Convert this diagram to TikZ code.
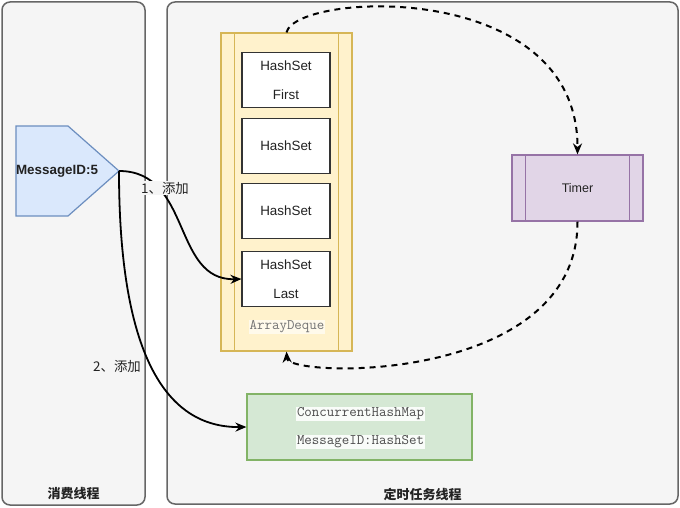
\documentclass[tikz,border=0pt]{standalone}
\usepackage{fontspec}
\setmainfont{Liberation Sans}
\newfontfamily\cjk{Noto Sans CJK SC}
\usetikzlibrary{arrows.meta,calc}
\definecolor{contfill}{HTML}{F5F5F5}
\definecolor{contdraw}{HTML}{666666}
\definecolor{bluefill}{HTML}{DAE8FC}
\definecolor{bluedraw}{HTML}{6C8EBF}
\definecolor{yelfill}{HTML}{FFF2CC}
\definecolor{yeldraw}{HTML}{D6B656}
\definecolor{purfill}{HTML}{E1D5E7}
\definecolor{purdraw}{HTML}{9673A6}
\definecolor{grnfill}{HTML}{D5E8D4}
\definecolor{grndraw}{HTML}{82B366}
\definecolor{txt}{HTML}{222222}
\tikzset{
  container/.style={draw=contdraw, fill=contfill, line width=1.5pt, rounded corners=8pt},
  contlabel/.style={font=\cjk\bfseries\fontsize{13}{15}\selectfont, text=txt},
  hsbox/.style={draw=black!80, fill=white, line width=1.1pt, minimum width=88pt, minimum height=55pt, inner sep=0pt, align=center, text=txt, font=\fontsize{13.4}{29}\selectfont},
  monotext/.style={font=\ttfamily\fontsize{14.5}{16}\selectfont, inner sep=1pt},
  solidarrow/.style={draw=black, line width=1.8pt, -{Stealth[length=11pt,width=9pt]}},
  dasharrow/.style={draw=black, line width=2pt, dash pattern=on 6pt off 5pt, -{Stealth[length=11pt,width=9pt]}},
  addlabel/.style={font=\cjk\fontsize{13.4}{15}\selectfont, text=txt, fill=contfill, inner sep=1pt},
}
\begin{document}
\begin{tikzpicture}[x=1pt,y=-1pt]
\useasboundingbox[fill=white] (0,0) rectangle (680,508);
% containers
\draw[container] (2,2) rectangle (145,505);
\node[contlabel] (lbl1) at (73.5,494) {消费线程};
\draw[container] (167,2) rectangle (678,504);
\node[contlabel] (lbl2) at (422.5,494) {定时任务线程};

% pentagon
\draw[fill=bluefill, draw=bluedraw, line width=1.2pt] (16,126) -- (68,126) -- (119,171) -- (68,216) -- (16,216) -- cycle;
\coordinate (tip) at (119,171);
\node[font=\bfseries\fontsize{13.4}{15}\selectfont, text=txt] (msg) at (57,171) {MessageID:5};

% ArrayDeque
\node[draw=yeldraw, fill=yelfill, line width=1.2pt, minimum width=131pt, minimum height=318pt, inner sep=0pt] (deque) at (286.5,192) {};
\draw[draw=yeldraw, line width=1.2pt] ($(deque.north west)+(14,0)$) -- ($(deque.south west)+(14,0)$);
\draw[draw=yeldraw, line width=1.2pt] ($(deque.north east)+(-14,0)$) -- ($(deque.south east)+(-14,0)$);
\node[monotext, text=black!55, fill=yelfill!40] (dqlabel) at (287,327) {ArrayDeque};

\node[hsbox] (hs1) at (286,80) {HashSet\\First};
\node[hsbox] (hs2) at (286,146) {HashSet};
\node[hsbox] (hs3) at (286,211) {HashSet};
\node[hsbox] (hs4) at (286,279) {HashSet\\Last};

% Timer
\node[draw=purdraw, fill=purfill, line width=1.2pt, minimum width=131pt, minimum height=66pt, inner sep=0pt, font=\fontsize{12.5}{14}\selectfont, text=txt] (timer) at (577.5,188) {Timer};
\draw[draw=purdraw, line width=1.2pt] ($(timer.north west)+(14,0)$) -- ($(timer.south west)+(14,0)$);
\draw[draw=purdraw, line width=1.2pt] ($(timer.north east)+(-14,0)$) -- ($(timer.south east)+(-14,0)$);

% ConcurrentHashMap
\node[draw=grndraw, fill=grnfill, line width=1.2pt, minimum width=225pt, minimum height=66pt, inner sep=0pt] (chm) at (359.5,427) {};
\node[monotext, text=black!70, fill=white!85!grnfill] (chm1) at (360.5,414) {ConcurrentHashMap};
\node[monotext, text=black!70, fill=white!85!grnfill] (chm2) at (360.5,442) {MessageID:HashSet};

% arrows
\draw[solidarrow] (tip) .. controls (192,171) and (172,281) .. (hs4.west);
\node[addlabel] (add1) at (165,188) {1、添加};
\draw[solidarrow] (tip) .. controls (119,320) and (150,428) .. (chm.west);
\node[addlabel] (add2) at (117,366) {2、添加};

\draw[dasharrow] (deque.north) .. controls (296,-8) and (578,-22) .. (timer.north);
\draw[dasharrow] (timer.south) .. controls (578,385) and (288,378) .. (deque.south);
\end{tikzpicture}
\end{document}
